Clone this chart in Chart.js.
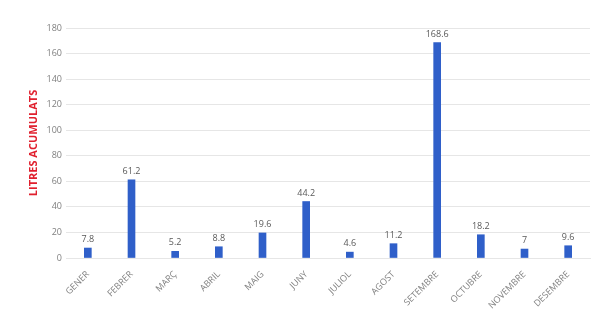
<!DOCTYPE html>
<html>
<head>
<meta charset="utf-8">
<script src="https://cdn.jsdelivr.net/npm/chart.js@4/dist/chart.umd.min.js"></script>
<style>
    html, body { margin: 0; padding: 0; background: #ffffff; }
    #wrap { width: 595px; height: 315px; position: relative; }
</style>
</head>
<body>
<div id="wrap"><canvas id="chart"></canvas></div>
<script>
(function () {
    "use strict";

    const months = [
        "GENER", "FEBRER", "MARÇ", "ABRIL", "MAIG", "JUNY",
        "JULIOL", "AGOST", "SETEMBRE", "OCTUBRE", "NOVEMBRE", "DESEMBRE",
    ];
    const litres = [7.8, 61.2, 5.2, 8.8, 19.6, 44.2, 4.6, 11.2, 168.6, 18.2, 7, 9.6];
    const yTicks = [0, 20, 40, 60, 80, 100, 120, 140, 160, 180];

    // value labels above each bar
    const barLabels = {
        id: "barLabels",
        afterDatasetsDraw(chart) {
            const ctx = chart.ctx;
            const meta = chart.getDatasetMeta(0);
            ctx.save();
            ctx.font = "9px 'Open Sans', sans-serif";
            ctx.fillStyle = "#595959";
            ctx.textAlign = "center";
            ctx.textBaseline = "bottom";
            meta.data.forEach((bar, i) => {
                ctx.fillText(String(litres[i]), bar.x, bar.y - 4);
            });
            ctx.restore();
        },
    };

    const ctx = document.getElementById("chart").getContext("2d");
    new Chart(ctx, {
        type: "bar",
        data: {
            labels: months,
            datasets: [
                {
                    data: litres,
                    backgroundColor: "#2f5fc9",
                    barThickness: 7,
                },
            ],
        },
        options: {
            responsive: true,
            maintainAspectRatio: false,
            animation: false,
            layout: {
                padding: { top: 28, right: 5, left: 27, bottom: 0 },
            },
            plugins: {
                legend: { display: false },
                tooltip: { enabled: false },
            },
            scales: {
                x: {
                    grid: { display: false },
                    border: { color: "#e6e6e6" },
                    ticks: {
                        color: "#7f7f7f",
                        font: { size: 9, family: "'Open Sans', sans-serif" },
                        minRotation: 45,
                        maxRotation: 45,
                        padding: 3,
                    },
                    afterFit(scale) {
                        scale.height = 57;
                    },
                },
                y: {
                    min: 0,
                    max: 180,
                    afterBuildTicks(scale) {
                        scale.ticks = yTicks.map((v) => ({ value: v }));
                    },
                    grid: { color: "#e6e6e6", drawTicks: false },
                    border: { display: false },
                    ticks: {
                        color: "#7f7f7f",
                        font: { size: 9, family: "'Open Sans', sans-serif" },
                        padding: 4,
                    },
                    title: {
                        display: true,
                        text: "LITRES ACUMULATS",
                        color: "#e0202e",
                        font: { size: 11, weight: "bold", family: "'Open Sans', sans-serif" },
                        padding: 0,
                    },
                    afterFit(scale) {
                        scale.width = 39;
                    },
                },
            },
        },
        plugins: [barLabels],
    });
})();
</script>
</body>
</html>
